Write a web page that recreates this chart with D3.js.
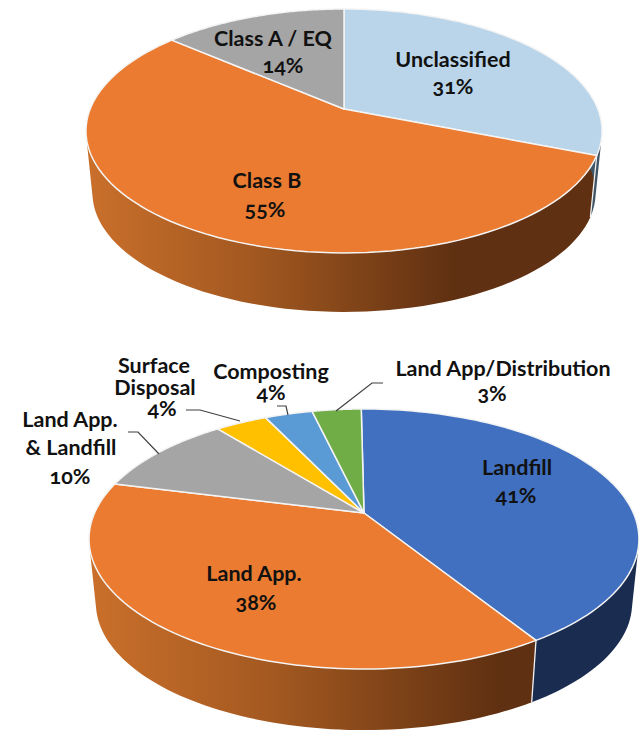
<!DOCTYPE html>
<html>
<head>
<meta charset="utf-8">
<script src="https://cdn.jsdelivr.net/npm/d3@7"></script>
<style>
  html, body { margin: 0; padding: 0; background: #fff; }
  svg { display: block; }
  text { font-family: Lato, "Open Sans", sans-serif; font-weight: 700; font-size: 21.5px; fill: #111; text-anchor: middle; font-feature-settings: "onum" 1; }
</style>
</head>
<body>
<svg id="chart" width="639" height="732"></svg>
<script>
'use strict';

// Top pie. Values are the slice sizes, labels what it prints
const classCategories = ['Unclassified', 'Class B', 'Class A / EQ'];
const classValues = [31, 55.3, 13.7];
const classLabels = ['31%', '55%', '14%'];
const classTopColors = ['#bad5ea', '#ea7b30', '#a5a5a5'];
const classSideColors = ['#3f5566', 'url(#orangeSideTop)', '#5a5a5a'];

// Bottom pie
const disposalCategories = ['Landfill', 'Land App.', 'Land App. & Landfill', 'Surface Disposal', 'Composting', 'Land App/Distribution'];
const disposalValues = [41.3, 37.8, 10.3, 3.7, 3.4, 3.5];
const disposalLabels = ['41%', '38%', '10%', '4%', '4%', '3%'];
const disposalTopColors = ['#4170c0', '#ea7b30', '#a5a5a5', '#ffc000', '#5b9bd5', '#70ad47'];
const disposalSideColors = ['#1a2c50', 'url(#orangeSideBottom)', '#5a5a5a', '#7f6000', '#2d4e6b', '#385723'];

const svg = d3.select('#chart');
const defs = svg.append('defs');

function sideGradient(id, x1, x2) {
    const g = defs.append('linearGradient').attr('id', id)
        .attr('gradientUnits', 'userSpaceOnUse')
        .attr('x1', x1).attr('x2', x2).attr('y1', 0).attr('y2', 0);
    g.append('stop').attr('offset', 0).attr('stop-color', '#c96f2b');
    g.append('stop').attr('offset', 0.45).attr('stop-color', '#a25820');
    g.append('stop').attr('offset', 1).attr('stop-color', '#5f3011');
}
sideGradient('orangeSideTop', 90, 455);
sideGradient('orangeSideBottom', 95, 500);

// Circle on the table -> screen, a simple perspective divide
function projector(o, scale, drop) {
    return a => {
        const x = Math.sin(a), y = -Math.cos(a);
        const w = 1 - o.k * y;
        return [o.cx + scale * o.rx * x / w, o.cy + drop + scale * o.ry * y / w];
    };
}

function drawPie(values, topColors, sideColors, o) {
    const arcs = d3.pie().sort(null).startAngle(o.start).endAngle(o.start + 2 * Math.PI)(values);
    const top = projector(o, 1, 0);
    const bottom = projector(o, o.shrink, o.depth);
    const rim = (a0, a1, f) => d3.range(0, 1.0001, 1 / 90).map(t => f(a0 + (a1 - a0) * t));

    // sides, back slices first
    const order = arcs.map((d, i) => i).sort((a, b) =>
        d3.sum([arcs[a].startAngle, arcs[a].endAngle].map(Math.cos)) - d3.sum([arcs[b].startAngle, arcs[b].endAngle].map(Math.cos)));
    const line = d3.line();
    svg.append('g').selectAll('path').data(order).join('path')
        .attr('fill', i => sideColors[i])
        .attr('d', i => {
            const t = rim(arcs[i].startAngle, arcs[i].endAngle, top);
            const b = rim(arcs[i].startAngle, arcs[i].endAngle, bottom);
            return d3.range(t.length - 1).map(j => {
                const q = [t[j], t[j + 1], b[j + 1], b[j]];
                if (d3.polygonArea(q) < 0) q.reverse();
                return line(q) + 'Z';
            }).join('');
        });

    // white seams on the wall
    svg.append('g').selectAll('path').data(arcs).join('path')
        .attr('fill', 'none').attr('stroke', '#f2f2f2').attr('stroke-width', 1.3)
        .attr('d', d => line([top(d.startAngle), bottom(d.startAngle)]))
        .attr('visibility', d => Math.cos(d.startAngle) < -0.1 ? 'visible' : 'hidden');

    // top face
    svg.append('g').selectAll('path').data(arcs).join('path')
        .attr('fill', (d, i) => topColors[i])
        .attr('stroke', '#f4f4f4').attr('stroke-width', 1.5).attr('stroke-linejoin', 'round')
        .attr('d', d => line([[o.cx, o.cy], ...rim(d.startAngle, d.endAngle, top)]) + 'Z');
}

drawPie(classValues, classTopColors, classSideColors,
    { cx: 344, cy: 109, rx: 253.8, ry: 118, k: 0.18, start: 0, shrink: 0.975, depth: 62.6 });
drawPie(disposalValues, disposalTopColors, disposalSideColors,
    { cx: 364, cy: 513, rx: 269.4, ry: 124.8, k: 0.2, start: -0.7 * Math.PI / 180, shrink: 0.975, depth: 65 });

// Leader lines
const leaders = [
    [[383, 383], [372, 383], [336, 411]],
    [[277, 406], [286, 406], [288, 415]],
    [[186, 410], [200, 410], [240, 421]],
    [[128, 432], [138, 432], [159, 454]]
];
svg.append('g').selectAll('path').data(leaders).join('path')
    .attr('fill', 'none').attr('stroke', '#404040').attr('stroke-width', 1.2)
    .attr('d', d3.line());

// Labels
const labelRows = [
    [[classCategories[0], classLabels[0]], [[453, 67], [453, 94]]],
    [[classCategories[2], classLabels[2]], [[273, 46], [283, 73]]],
    [[classCategories[1], classLabels[1]], [[267, 188], [265, 217]]],
    [[disposalCategories[0], disposalLabels[0]], [[517, 475], [516, 503]]],
    [[disposalCategories[1], disposalLabels[1]], [[254, 581], [256, 610]]],
    [['Land App.', '& Landfill', disposalLabels[2]], [[70, 427], [71, 455], [70, 484]]],
    [['Surface', 'Disposal', disposalLabels[3]], [[154, 373], [155, 395], [162, 416]]],
    [[disposalCategories[4], disposalLabels[4]], [[271, 379], [271, 400]]],
    [[disposalCategories[5], disposalLabels[5]], [[503, 376], [492, 401]]]
];
const textData = labelRows.flatMap(([texts, pos]) => texts.map((t, i) => ({ t, p: pos[i] })));
svg.append('g').selectAll('text').data(textData).join('text')
    .attr('x', d => d.p[0]).attr('y', d => d.p[1]).text(d => d.t);
</script>
</body>
</html>
